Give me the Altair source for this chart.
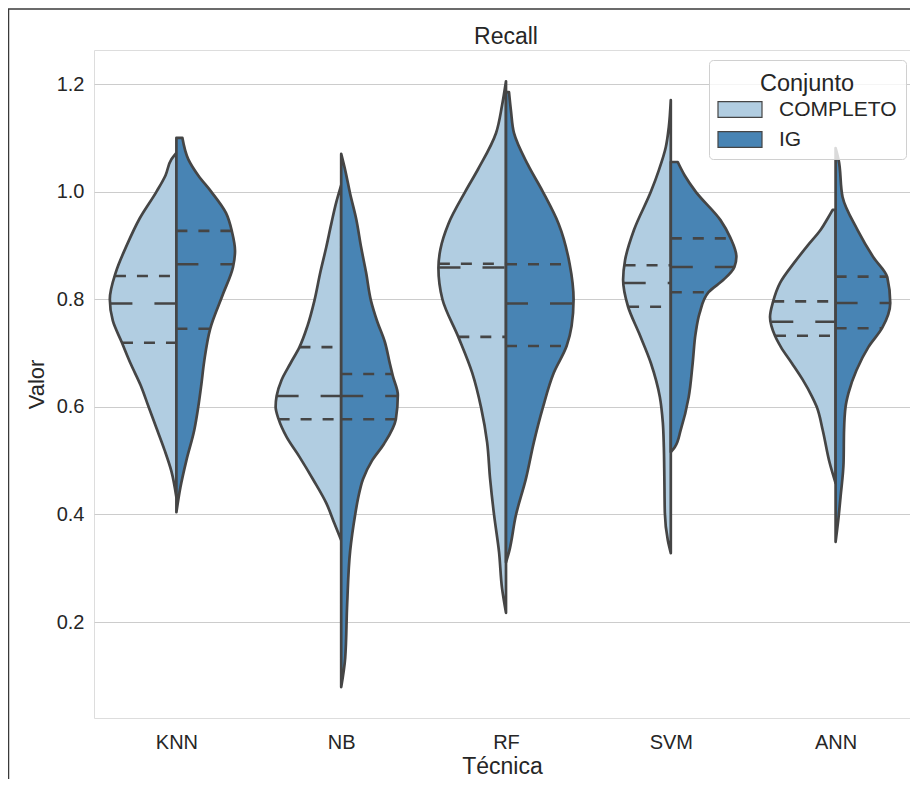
import altair as alt
import numpy as np
import pandas as pd

# ---------------- data ----------------
tecnicas = ["KNN", "NB", "RF", "SVM", "ANN"]
conjuntos = ["COMPLETO", "IG"]

# density profiles of each half violin: value -> relative half-width
knn_completo_val = [1.072, 1.06, 1.03, 1.0, 0.95, 0.9, 0.85, 0.8, 0.76, 0.72, 0.68, 0.64, 0.6, 0.56, 0.52, 0.48, 0.432]
knn_completo_den = [0, 5, 11, 20, 37, 50, 61, 67, 64, 55, 46, 36, 28, 20, 12, 5, 0]
knn_ig_val = [1.10, 1.06, 1.03, 1.0, 0.96, 0.925, 0.89, 0.86, 0.81, 0.745, 0.685, 0.64, 0.6, 0.557, 0.5, 0.45, 0.404]
knn_ig_den = [6, 12, 22, 35, 50, 56, 59, 57, 47, 34, 28, 25, 22, 18, 10, 4, 0]

nb_completo_val = [1.012, 0.98, 0.94, 0.897, 0.85, 0.797, 0.75, 0.711, 0.681, 0.65, 0.62, 0.6, 0.577, 0.544, 0.507, 0.464, 0.421, 0.384, 0.352]
nb_completo_den = [0, 5, 10, 15, 21, 27, 34, 42, 51, 60, 65, 66, 63, 55, 42, 28, 15, 7, 0]
nb_ig_val = [1.07, 1.04, 0.996, 0.95, 0.897, 0.85, 0.797, 0.76, 0.72, 0.68, 0.657, 0.622, 0.577, 0.531, 0.5, 0.466, 0.43, 0.399, 0.332, 0.233, 0.133, 0.079]
nb_ig_den = [0, 4, 9, 15, 20, 25, 30, 36, 44, 49, 52, 57, 55, 43, 31, 22, 17, 14, 9, 6, 4, 0]

rf_completo_val = [1.205, 1.16, 1.109, 1.042, 1.0, 0.94, 0.893, 0.858, 0.8, 0.73, 0.663, 0.598, 0.534, 0.466, 0.399, 0.33, 0.263, 0.217]
rf_completo_den = [0, 4, 10, 28, 41, 58, 66, 68, 64, 48, 34, 25, 19, 16, 12, 7, 4, 0]
rf_ig_val = [1.185, 1.15, 1.109, 1.05, 1.0, 0.94, 0.866, 0.8, 0.75, 0.713, 0.663, 0.598, 0.534, 0.466, 0.399, 0.33, 0.311]
rf_ig_den = [3, 5, 8, 22, 37, 53, 64, 68, 66, 61, 48, 37, 28, 20, 10, 3, 0]

svm_completo_val = [1.17, 1.12, 1.083, 1.04, 1.0, 0.929, 0.873, 0.836, 0.786, 0.737, 0.681, 0.618, 0.57, 0.525, 0.47, 0.403, 0.352, 0.328]
svm_completo_den = [0, 2, 5, 12, 20, 37, 46, 48, 43, 32, 20, 11, 8, 7, 6.5, 6, 3, 0]
svm_ig_val = [1.055, 1.03, 1.0, 0.947, 0.914, 0.879, 0.86, 0.836, 0.813, 0.774, 0.737, 0.681, 0.618, 0.557, 0.525, 0.516]
svm_ig_den = [7, 14, 25, 50, 60, 66, 64, 53, 38, 29, 25, 22, 18, 10, 4, 0]

ann_completo_val = [0.966, 0.95, 0.929, 0.9, 0.867, 0.83, 0.795, 0.767, 0.732, 0.711, 0.681, 0.65, 0.62, 0.6, 0.557, 0.496, 0.458]
ann_completo_den = [3, 8, 15, 28, 42, 56, 63, 66, 61, 55, 44, 33, 24, 19, 13, 6, 0]
ann_ig_val = [1.081, 1.059, 0.99, 0.929, 0.878, 0.841, 0.793, 0.747, 0.711, 0.668, 0.626, 0.6, 0.557, 0.496, 0.433, 0.395, 0.349]
ann_ig_den = [0, 3, 7, 22, 38, 52, 55, 47, 33, 21, 13, 10, 8.5, 8, 5, 3, 0]

# quartiles per technique
q1_completo = [0.719, 0.577, 0.730, 0.786, 0.732]
med_completo = [0.792, 0.620, 0.859, 0.830, 0.758]
q3_completo = [0.843, 0.711, 0.866, 0.863, 0.796]
q1_ig = [0.745, 0.577, 0.713, 0.813, 0.746]
med_ig = [0.865, 0.620, 0.792, 0.860, 0.793]
q3_ig = [0.927, 0.661, 0.865, 0.913, 0.842]

# ---------------- build tables ----------------
profiles = {
    ("KNN", "COMPLETO"): (knn_completo_val, knn_completo_den),
    ("KNN", "IG"): (knn_ig_val, knn_ig_den),
    ("NB", "COMPLETO"): (nb_completo_val, nb_completo_den),
    ("NB", "IG"): (nb_ig_val, nb_ig_den),
    ("RF", "COMPLETO"): (rf_completo_val, rf_completo_den),
    ("RF", "IG"): (rf_ig_val, rf_ig_den),
    ("SVM", "COMPLETO"): (svm_completo_val, svm_completo_den),
    ("SVM", "IG"): (svm_ig_val, svm_ig_den),
    ("ANN", "COMPLETO"): (ann_completo_val, ann_completo_den),
    ("ANN", "IG"): (ann_ig_val, ann_ig_den),
}
quartiles = {
    "COMPLETO": (q1_completo, med_completo, q3_completo),
    "IG": (q1_ig, med_ig, q3_ig),
}

HALF_WIDTH = 0.41  # widest half violin, in category units
max_den = max(max(d) for _, d in profiles.values())

rows = []
qrows = []
for (tec, conj), (vals, dens) in profiles.items():
    i = tecnicas.index(tec)
    side = -1 if conj == "COMPLETO" else 1
    for v, d in zip(vals, dens):
        w = d / max_den * HALF_WIDTH
        rows.append({"Técnica": tec, "Conjunto": conj, "valor": v,
                     "borde": i + side * w, "centro": i})
    order = np.argsort(vals)
    sv = np.array(vals)[order]
    sd = np.array(dens)[order]
    q1s, meds, q3s = quartiles[conj]
    for kind, q in (("q", q1s[i]), ("m", meds[i]), ("q", q3s[i])):
        w = float(np.interp(q, sv, sd)) / max_den * HALF_WIDTH
        if side < 0:
            x1, x2 = i - w, i
        else:
            x1, x2 = i, i + w
        qrows.append({"Técnica": tec, "Conjunto": conj, "tipo": kind,
                      "valor": q, "x1": x1, "x2": x2})

df_v = pd.DataFrame(rows)
df_q = pd.DataFrame(qrows)

# ---------------- styling ----------------
LIGHT = "#b1cde1"
DARK = "#4884b4"
EDGE = "#454545"
TEXT = "#262626"
FONT = "Liberation Sans"

PLOT_W = 816
BAND_PX = 164.8
xscale = alt.Scale(domain=[-0.5, -0.5 + PLOT_W / BAND_PX], nice=False, zero=False)
yscale = alt.Scale(domain=[0.0216, 1.2632], nice=False, zero=False)
label_expr = "[" + ",".join("'%s'" % t for t in tecnicas) + "][datum.value]"

x_axis = alt.Axis(values=list(range(len(tecnicas))), labelExpr=label_expr,
                  labelFontSize=20, labelPadding=14, ticks=False, tickSize=0,
                  domain=False, grid=False, titleFontSize=23, titlePadding=3,
                  titleFontWeight="normal", labelColor=TEXT, titleColor=TEXT,
                  labelFont=FONT, titleFont=FONT)
y_axis = alt.Axis(values=[0.2, 0.4, 0.6, 0.8, 1.0, 1.2], format=".1f",
                  labelFontSize=20, labelPadding=10, ticks=False, tickSize=0,
                  domain=False, grid=True, gridColor="#cccccc", gridWidth=1,
                  titleFontSize=22, titlePadding=8, titleFontWeight="normal",
                  labelColor=TEXT, titleColor=TEXT, labelFont=FONT, titleFont=FONT)

legend = alt.Legend(
    title="Conjunto", orient="none", legendX=615, legendY=10,
    fillColor="rgba(255,255,255,0.8)", strokeColor="#d0d0d0", cornerRadius=4,
    padding=9, titleFontSize=23.5, titleFontWeight="normal", titleColor=TEXT,
    titleFont=FONT, titleAnchor="middle", titleBaseline="line-top",
    titleLineHeight=31, titlePadding=6,
    labelFontSize=21, labelColor=TEXT, labelFont=FONT,
    symbolType="M-2.2,-0.78H2.2V0.78H-2.2Z", symbolSize=400,
    symbolStrokeColor=EDGE, symbolStrokeWidth=1.2, symbolOpacity=1,
    symbolOffset=11, labelOffset=28, rowPadding=8,
)

areas = alt.Chart(df_v).mark_area(
    orient="horizontal", interpolate="monotone", stroke=EDGE,
    strokeWidth=2.7, opacity=1, strokeJoin="round"
).encode(
    y=alt.Y("valor:Q", scale=yscale, axis=y_axis, title="Valor"),
    x=alt.X("borde:Q", scale=xscale, axis=x_axis, title="Técnica", stack=False),
    x2="centro:Q",
    color=alt.Color("Conjunto:N", scale=alt.Scale(domain=conjuntos, range=[LIGHT, DARK]),
                    legend=legend),
    detail="Técnica:N",
)

quart = alt.Chart(df_q).transform_filter("datum.tipo == 'q'").mark_rule(
    color=EDGE, strokeWidth=2.6, strokeDash=[11, 11]
).encode(x=alt.X("x1:Q", scale=xscale), x2="x2:Q", y=alt.Y("valor:Q", scale=yscale))

medians = alt.Chart(df_q).transform_filter("datum.tipo == 'm'").mark_rule(
    color=EDGE, strokeWidth=2.6, strokeDash=[22, 22]
).encode(x=alt.X("x1:Q", scale=xscale), x2="x2:Q", y=alt.Y("valor:Q", scale=yscale))

frame_src = pd.DataFrame({"k": [0]})
title_text = alt.Chart(frame_src).mark_text(
    text="Recall", fontSize=23, font=FONT, color=TEXT, align="center",
    baseline="alphabetic"
).encode(x=alt.value(412), y=alt.value(-6))
top_border = alt.Chart(frame_src).mark_rule(color="#3a3a3a", strokeWidth=1.5).encode(
    x=alt.value(-86), x2=alt.value(830), y=alt.value(-41))
left_border = alt.Chart(frame_src).mark_rule(color="#3a3a3a", strokeWidth=1.5).encode(
    x=alt.value(-85.5), y=alt.value(-41), y2=alt.value(760))

chart = alt.layer(areas, quart, medians, title_text, top_border, left_border).properties(
    width=PLOT_W, height=668,
    autosize=alt.AutoSizeParams(type="none"),
    padding={"left": 86, "top": 42, "right": 0, "bottom": 61},
    background="white",
).configure_view(stroke="#cccccc", strokeWidth=1.25).configure(font=FONT)

chart.save("out.html", embed_options={"renderer": "svg", "actions": False})
